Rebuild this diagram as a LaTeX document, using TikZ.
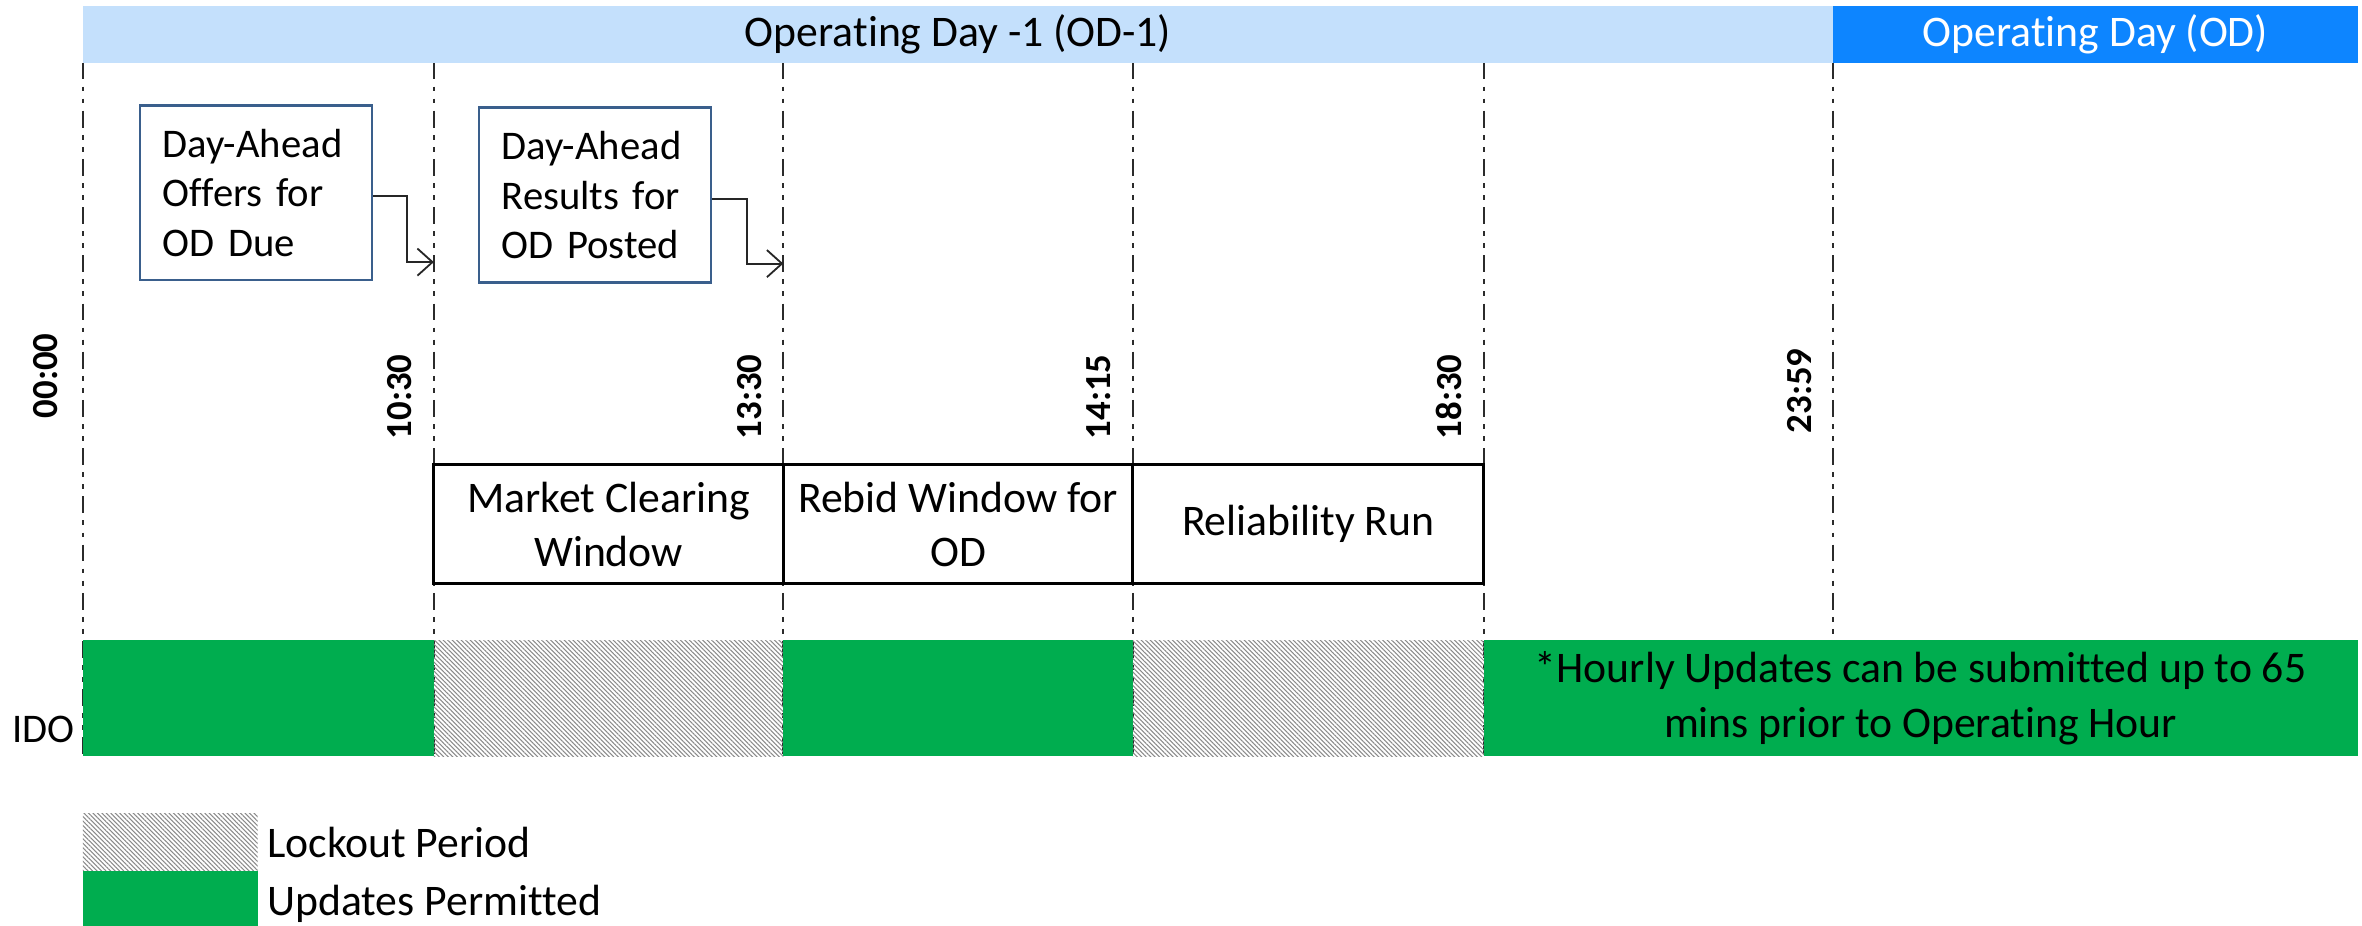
\documentclass[tikz,border=0pt]{standalone}
\usepackage{fontspec}
\setmainfont{Carlito}[Ligatures=NoCommon]
\usetikzlibrary{arrows.meta,patterns.meta}
\definecolor{lblue}{HTML}{C4E0FC}
\definecolor{dblue}{HTML}{0D85FF}
\definecolor{grn}{HTML}{00AD4F}
\definecolor{boxblue}{HTML}{3A5F8C}
\definecolor{hatchc}{HTML}{8A8A8A}
\definecolor{dashc}{HTML}{2B2B2B}
\begin{document}
\begin{tikzpicture}[x=0.5pt,y=-0.5pt,
  tline/.style={draw=dashc,line width=0.6pt,dash pattern=on 5.6pt off 2.4pt on 1.6pt off 2.4pt on 1.6pt off 2.4pt},
  lockfill/.style={pattern={Lines[angle=-45,distance=1.05pt,line width=0.35pt]},pattern color=hatchc},
  evbox/.style={draw=boxblue,line width=0.8pt,minimum width=77pt,minimum height=58pt,text width=62pt,inner xsep=7.5pt,align=left,font=\fontsize{13.5}{16.5}\selectfont},
  winbox/.style={draw=black,line width=1pt,minimum width=116pt,minimum height=39.5pt,align=center,font=\fontsize{14.5}{18}\selectfont,inner sep=0pt},
  timelbl/.style={rotate=90,anchor=west,inner sep=0pt,font=\fontsize{12.2}{14}\selectfont\bfseries},
  arr/.style={draw=black!85,line width=0.6pt,-{Straight Barb[length=5pt,width=9pt]}},
  txt/.style={font=\fontsize{14.5}{18.5}\selectfont,inner sep=0pt}
]
\useasboundingbox (0,0) rectangle (1568,614.7);

% time lines
\foreach \x in {55,288,520,752,985}
  \draw[tline] (\x,41.5) -- (\x,502);
\draw[tline] (1217,41.5) -- (1217,425);

% top bar
\fill[lblue] (55,4) rectangle (1217,41.5);
\fill[dblue] (1217,4) rectangle (1565,41.5);
\node[txt] (odm1) at (636,22.75) {Operating Day -1 (OD-1)};
\node[txt,text=white] (od) at (1391,22.75) {Operating Day (OD)};

% IDO bar
\fill[grn] (55,425) rectangle (288,502);
\path[lockfill] (288,425) rectangle (520,502);
\fill[grn] (520,425) rectangle (752,502);
\path[lockfill] (752,425) rectangle (985,502);
\fill[grn] (985,425) rectangle (1565,502);
\node[txt,align=center] (note) at (1275,463.5) {*Hourly Updates can be submitted up to 65\\mins prior to Operating Hour};
\node[anchor=base east,inner sep=0pt,font=\fontsize{13.5}{16}\selectfont] (ido) at (50,493) {IDO};

% event boxes
\node[evbox] (offers) at (170,128) {Day-Ahead\\Offers for\\OD Due};
\node[evbox] (results) at (395,129.5) {Day-Ahead\\Results for\\OD Posted};
\coordinate (bend1) at (270,130);
\coordinate (tip1) at (288,174);
\coordinate (bend2) at (496,132);
\coordinate (tip2) at (520,175);
\draw[arr] (offers.east |- bend1) -- (bend1) |- (tip1);
\draw[arr] (results.east |- bend2) -- (bend2) |- (tip2);

% windows
\node[winbox] (mcw) at (404,348) {Market Clearing\\Window};
\node[winbox] (rbw) at (636,348) {Rebid Window for\\OD};
\node[winbox,minimum width=116.5pt] (rr) at (868.5,348) {Reliability Run};

% time labels
\node[timelbl] (t0000) at (30,278) {00:00};
\node[timelbl] (t1030) at (265.5,292) {10:30};
\node[timelbl] (t1330) at (497.5,292) {13:30};
\node[timelbl] (t1415) at (729.5,292) {14:15};
\node[timelbl] (t1830) at (962,292) {18:30};
\node[timelbl] (t2359) at (1194.5,288) {23:59};

% legend
\path[lockfill] (55,540) rectangle (171,578);
\fill[grn] (55,578) rectangle (171,615);
\node[txt,anchor=base west] (lk) at (177,569) {Lockout Period};
\node[txt,anchor=base west] (up) at (177,608) {Updates Permitted};
\end{tikzpicture}
\end{document}
